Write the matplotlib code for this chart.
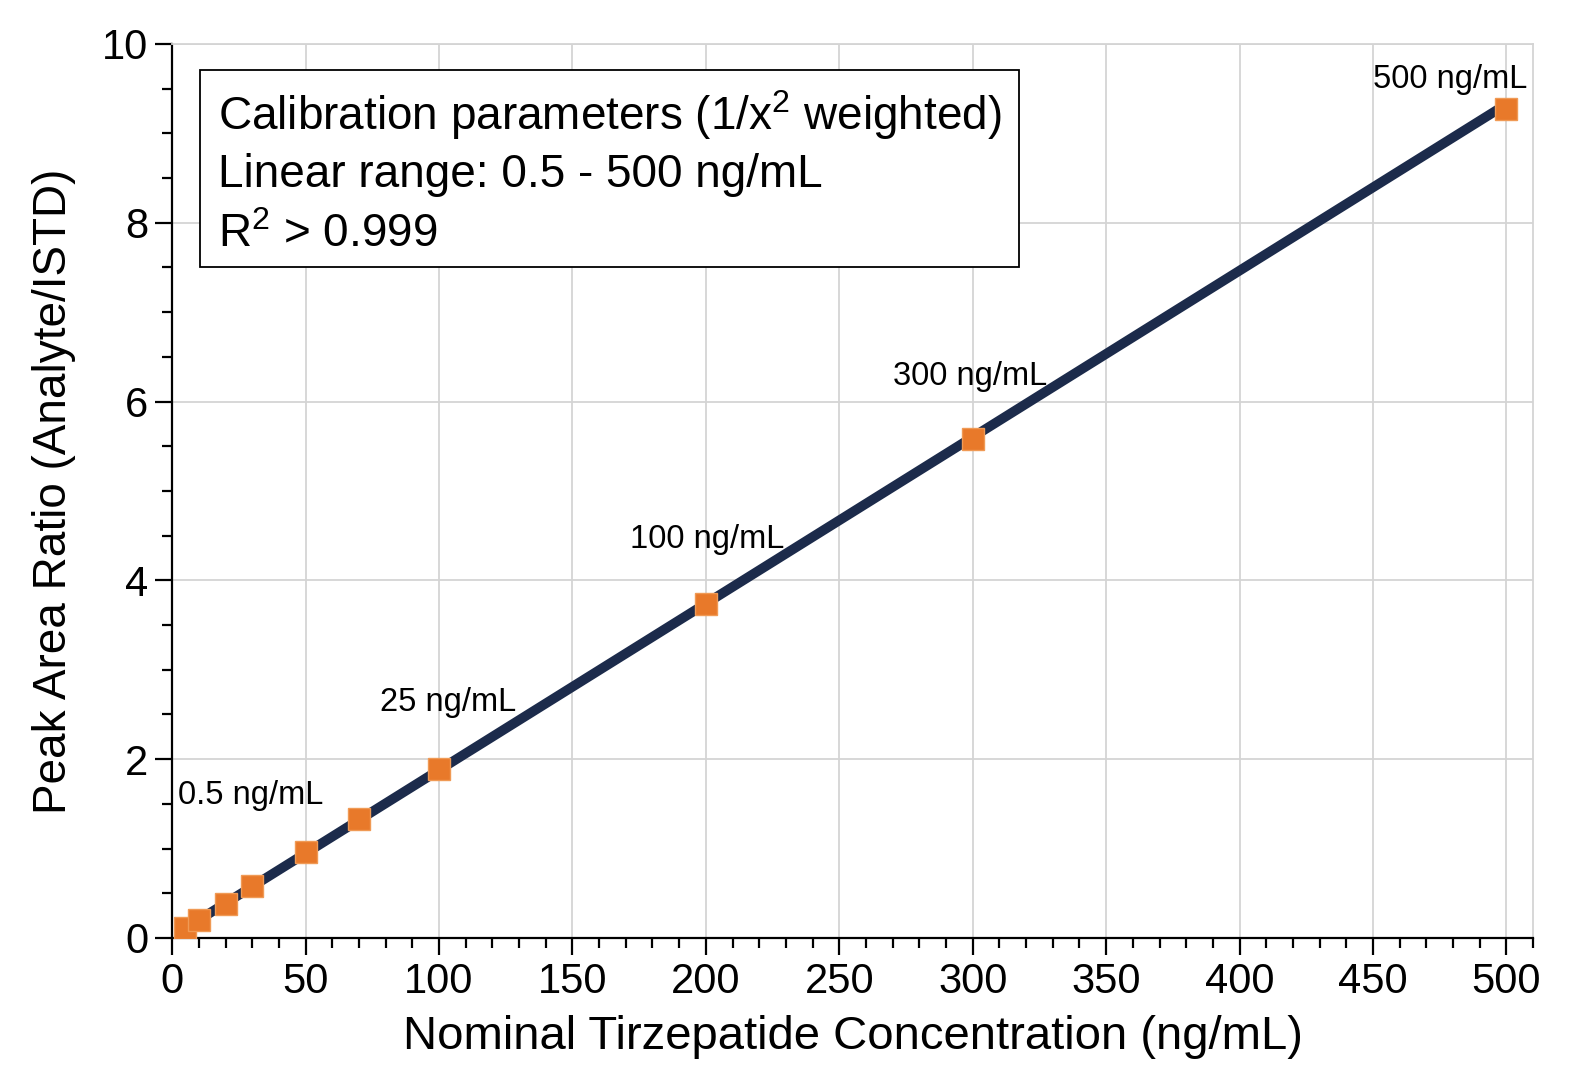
#calibration curve: peak area ratio vs nominal concentration
#orange squares for the standards, navy weighted linear fit through them

import numpy as np
import matplotlib.pyplot as plt
from matplotlib.patches import Rectangle

plt.rcParams['font.family'] = ['Liberation Sans', 'DejaVu Sans']
plt.rcParams['mathtext.fontset'] = 'custom'
plt.rcParams['mathtext.rm'] = 'Liberation Sans'
plt.rcParams['mathtext.default'] = 'regular'

# data points
conc = np.array([5, 10, 20, 30, 50, 70, 100, 200, 300, 500])
ratio = np.array([0.11, 0.20, 0.38, 0.58, 0.96, 1.33, 1.89, 3.74, 5.58, 9.27])

# which points get a label, and the label text
label_idx = [0, 6, 7, 8, 9]
label_txt = ['0.5 ng/mL', '25 ng/mL', '100 ng/mL', '300 ng/mL', '500 ng/mL']
# label anchor (left, centre) in data coords
label_pos = [(2.1, 1.59), (78, 2.63), (171.5, 4.46), (270, 6.28), (450, 9.6)]

box_lines = [r'Calibration parameters (1/x$^{2}$ weighted)',
             'Linear range: 0.5 - 500 ng/mL',
             r'R$^{2}$ > 0.999']

navy = '#1c2b4b'
orange = '#e8792a'

# 1/x^2 weighted fit (polyfit weights the residual, so w = 1/x)
p = np.polyfit(conc, ratio, 1, w=1/conc)
fx = np.array([conc.min(), conc.max()])
fy = np.polyval(p, fx)

fig = plt.figure(figsize=(15.75, 10.8), dpi=100)
ax = fig.add_axes([0.1093, 0.1315, 0.8641, 0.8278])

ax.plot(fx, fy, color=navy, lw=7, solid_capstyle='butt', zorder=3)
ax.plot(conc, ratio, ls='none', marker='s', ms=15.5, mfc=orange,
        mec='#f09a55', mew=1, zorder=4)

for i, t, pos in zip(label_idx, label_txt, label_pos):
    ax.text(pos[0], pos[1], t, fontsize=23.5, ha='left', va='center', zorder=5)

ax.set_xlim(0, 510)
ax.set_ylim(0, 10)
ax.set_xticks(np.arange(0, 501, 50))
ax.set_xticks(np.arange(0, 511, 10), minor=True)
ax.set_yticks(np.arange(0, 11, 2))
ax.set_yticks(np.arange(0, 10.01, 0.5), minor=True)

ax.grid(True, which='major', color='#d4d4d4', lw=1.3, zorder=0)
ax.set_axisbelow(True)

for s in ['top', 'right']:
    ax.spines[s].set_color('#d4d4d4')
    ax.spines[s].set_linewidth(1.3)
for s in ['left', 'bottom']:
    ax.spines[s].set_color('black')
    ax.spines[s].set_linewidth(1.6)

ax.tick_params(which='major', length=12, width=1.6, labelsize=30, pad=5)
ax.tick_params(which='minor', length=7, width=1.6)

ax.set_xlabel('Nominal Tirzepatide Concentration (ng/mL)', fontsize=34, labelpad=10)
ax.set_ylabel('Peak Area Ratio (Analyte/ISTD)', fontsize=33, labelpad=19)

# text box
ax.add_patch(Rectangle((0.0206, 0.7506), 0.6015, 0.2204, transform=ax.transAxes,
                       fill=True, facecolor='white', edgecolor='black', lw=1.3, zorder=6))
for k, line in enumerate(box_lines):
    ax.text(0.0338, 0.921 - k*0.0675, line, transform=ax.transAxes, fontsize=33,
            ha='left', va='center', zorder=7)

fig.savefig('out.png', dpi=100)
